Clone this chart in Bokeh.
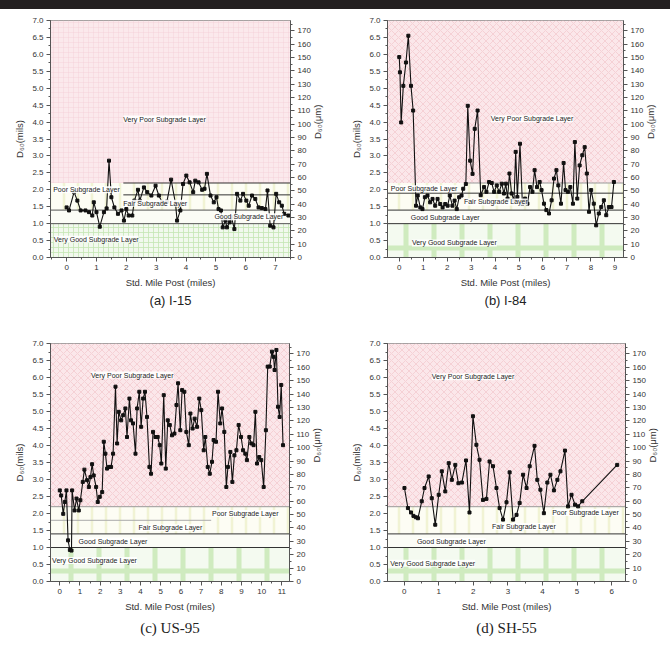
import math
from bokeh.plotting import figure
from bokeh.models import (Range1d, LinearAxis, SingleIntervalTicker, Label, Div,
                          Title, ColumnDataSource, PrintfTickFormatter, BoxAnnotation)
from bokeh.layouts import column, row
from bokeh.embed import file_html
from bokeh.resources import INLINE

MILS_TO_UM = 25.4
Y_MAX = 7.0

# ---------------- data ----------------
i15_mile = [0.0, 0.08, 0.25, 0.36, 0.47, 0.63, 0.75, 0.86, 0.91, 1.0, 1.11, 1.25, 1.34, 1.42, 1.5,
            1.6, 1.72, 1.84, 1.92, 2.0, 2.08, 2.2, 2.27, 2.39, 2.45, 2.59, 2.7, 2.84, 2.98, 3.09,
            3.2, 3.36, 3.5, 3.65, 3.7, 3.81, 3.9, 4.01, 4.12, 4.24, 4.31, 4.42, 4.54, 4.62, 4.7,
            4.82, 4.93, 5.02, 5.09, 5.17, 5.23, 5.32, 5.37, 5.46, 5.52, 5.62, 5.71, 5.82, 5.91,
            6.02, 6.1, 6.21, 6.32, 6.43, 6.54, 6.66, 6.73, 6.82, 6.93, 7.02, 7.12, 7.21, 7.29, 7.43]
i15_d60 = [1.48, 1.39, 1.93, 1.68, 1.39, 1.39, 1.34, 1.24, 1.63, 1.34, 0.91, 1.34, 1.45, 2.86, 1.78,
           1.48, 1.29, 1.39, 1.09, 1.43, 1.24, 1.24, 1.68, 2.0, 1.68, 2.07, 1.93, 1.83, 2.12, 1.83,
           1.63, 1.65, 2.3, 1.58, 1.09, 1.39, 2.17, 2.42, 2.22, 1.93, 2.27, 2.22, 2.0, 2.03, 2.47,
           1.83, 1.63, 1.78, 1.43, 1.39, 0.89, 1.09, 0.89, 1.04, 1.19, 0.84, 1.88, 1.68, 1.88,
           1.68, 1.53, 1.83, 1.73, 1.48, 1.46, 1.43, 1.98, 0.94, 0.89, 1.88, 1.63, 1.53, 1.29, 1.24]

i84_mile = [0.0, 0.03, 0.08, 0.17, 0.28, 0.38, 0.49, 0.58, 0.7, 0.77, 0.88, 0.97, 1.07, 1.18, 1.29,
            1.39, 1.5, 1.6, 1.71, 1.81, 1.92, 2.02, 2.11, 2.22, 2.31, 2.4, 2.5, 2.6, 2.67, 2.78,
            2.86, 2.96, 3.06, 3.15, 3.27, 3.4, 3.54, 3.64, 3.75, 3.86, 3.96, 4.07, 4.17, 4.28, 4.37,
            4.45, 4.52, 4.6, 4.69, 4.79, 4.86, 4.93, 5.04, 5.14, 5.25, 5.35, 5.46, 5.56, 5.65, 5.75,
            5.86, 5.94, 6.04, 6.14, 6.25, 6.36, 6.46, 6.56, 6.64, 6.75, 6.86, 6.94, 7.04, 7.14, 7.25,
            7.33, 7.43, 7.53, 7.64, 7.74, 7.83, 7.92, 8.01, 8.12, 8.22, 8.33, 8.43, 8.54, 8.64, 8.75,
            8.86, 8.96]
i84_d60 = [5.92, 5.47, 3.99, 5.07, 5.76, 6.55, 5.07, 4.34, 1.53, 1.83, 1.48, 1.43, 1.78, 1.83, 1.63,
           1.73, 1.53, 1.73, 1.58, 1.48, 1.58, 1.53, 1.83, 1.53, 1.68, 1.43, 1.78, 1.83, 2.03, 2.17,
           4.48, 2.86, 2.47, 3.8, 4.34, 1.84, 2.08, 1.94, 2.23, 2.2, 1.94, 2.13, 1.94, 2.18, 1.89,
           2.18, 1.74, 2.48, 1.89, 1.69, 3.12, 1.79, 3.36, 1.59, 1.74, 1.59, 2.08, 1.94, 2.58, 2.08,
           2.23, 1.99, 1.59, 1.4, 1.3, 1.69, 2.33, 2.58, 2.13, 1.59, 2.79, 1.99, 1.94, 2.08, 1.59,
           3.41, 1.74, 2.72, 3.02, 3.26, 2.48, 1.35, 1.99, 1.59, 0.95, 1.3, 1.49, 1.69, 1.25, 1.49,
           1.49, 2.23]

us95_mile = [0, 0.07, 0.17, 0.25, 0.33, 0.41, 0.5, 0.58, 0.61, 0.73, 0.83, 0.94, 1.02, 1.14, 1.22,
             1.35, 1.44, 1.52, 1.6, 1.68, 1.8, 1.88, 1.98, 2.1, 2.18, 2.26, 2.34, 2.43, 2.54, 2.64,
             2.76, 2.84, 2.92, 3.04, 3.14, 3.25, 3.33, 3.45, 3.53, 3.63, 3.75, 3.83, 3.94, 4.03, 4.13,
             4.22, 4.32, 4.44, 4.52, 4.62, 4.74, 4.85, 4.95, 5.03, 5.15, 5.25, 5.35, 5.45, 5.56, 5.68,
             5.78, 5.86, 5.97, 6.06, 6.17, 6.27, 6.39, 6.47, 6.58, 6.68, 6.8, 6.91, 7.01, 7.13, 7.21,
             7.33, 7.43, 7.54, 7.62, 7.74, 7.84, 7.95, 8.04, 8.15, 8.25, 8.33, 8.45, 8.55, 8.65, 8.75,
             8.86, 8.98, 9.08, 9.19, 9.27, 9.39, 9.49, 9.6, 9.69, 9.77, 9.88, 9.98, 10.1, 10.21, 10.3,
             10.4, 10.51, 10.59, 10.64, 10.73, 10.81, 10.89, 10.97, 11.06]
us95_d60 = [2.68, 2.53, 1.99, 2.34, 2.68, 1.21, 0.93, 0.91, 2.68, 2.09, 2.44, 2.09, 2.39, 2.93, 3.29,
            2.98, 2.78, 3.07, 3.45, 3.12, 2.78, 2.34, 2.49, 2.63, 4.11, 3.76, 3.32, 3.37, 3.37, 3.76,
            5.73, 4.06, 4.99, 4.74, 4.89, 5.09, 4.25, 5.38, 4.74, 4.65, 3.76, 5.09, 5.58, 4.55, 5.38,
            5.58, 4.84, 3.37, 3.17, 4.4, 4.25, 4.25, 4.01, 3.47, 5.48, 3.32, 4.74, 4.6, 4.3, 4.35,
            5.19, 5.83, 4.45, 5.63, 5.58, 4.4, 4.01, 4.94, 4.5, 4.79, 4.55, 5.38, 5.04, 3.86, 4.25,
            3.37, 3.17, 3.52, 4.16, 4.11, 5.58, 4.65, 5.09, 4.4, 2.78, 3.37, 3.81, 2.93, 3.71, 3.86,
            4.6, 4.25, 3.86, 3.76, 3.57, 4.25, 4.06, 4.01, 4.99, 3.47, 3.66, 3.57, 2.78, 4.45, 6.32,
            6.32, 6.76, 6.61, 6.22, 6.81, 5.14, 4.84, 5.78, 4.01]

sh55_mile = [0.01, 0.11, 0.2, 0.27, 0.34, 0.4, 0.51, 0.59, 0.71, 0.8, 0.9, 1.0, 1.09, 1.19, 1.29,
             1.38, 1.48, 1.57, 1.67, 1.79, 1.89, 1.99, 2.09, 2.18, 2.28, 2.38, 2.47, 2.57, 2.67, 2.76,
             2.86, 2.96, 3.05, 3.15, 3.25, 3.34, 3.44, 3.54, 3.63, 3.77, 3.85, 3.94, 4.04, 4.14, 4.23,
             4.33, 4.43, 4.52, 4.65, 4.74, 4.84, 4.94, 5.03, 5.15, 6.16]
sh55_d60 = [2.75, 2.16, 2.03, 1.93, 1.89, 1.86, 2.36, 2.75, 3.09, 2.45, 1.67, 2.55, 3.24, 2.65, 3.48,
            2.99, 3.43, 2.89, 2.91, 3.56, 2.03, 4.86, 4.02, 3.58, 2.4, 2.43, 3.53, 3.39, 2.75, 2.16,
            1.82, 2.33, 3.21, 1.82, 1.96, 2.31, 3.14, 2.75, 3.39, 3.99, 2.99, 2.7, 2.01, 2.91, 3.14,
            2.68, 2.99, 3.24, 3.85, 2.21, 2.55, 2.26, 2.21, 2.36, 3.43]

# subgrade layer thresholds (mils)
very_good_top = 1.0
good_top = 1.4
poor_top = 2.2
layer_names = ["Very Good Subgrade Layer", "Good Subgrade Layer", "Fair Subgrade Layer",
               "Poor Subgrade Layer", "Very Poor Subgrade Layer"]

captions = ["(a) I-15", "(b) I-84", "(c) US-95", "(d) SH-55"]

FONT = "Liberation Sans"


def make_panel(miles, d60, caption, cfg):
    p = figure(width=335, height=cfg["h"], output_backend="svg", toolbar_location=None,
               x_range=Range1d(*cfg["xr"]), y_range=Range1d(0, Y_MAX),
               min_border_left=cfg["bl"], min_border_right=cfg["br"],
               min_border_top=11, min_border_bottom=cfg["bb"])
    p.xgrid.visible = False
    p.ygrid.visible = False
    p.outline_line_color = "#8a8a8a"
    p.background_fill_color = "white"
    x0, x1 = cfg["xr"]

    # layer backgrounds
    if cfg["grid_style"]:
        p.quad(left=x0, right=x1, bottom=poor_top, top=Y_MAX, fill_color="#fbe9ec",
               line_color=None, hatch_pattern="cross", hatch_color="#f3cfd5",
               hatch_scale=5, hatch_weight=0.7, hatch_alpha=0.6)
    else:
        p.quad(left=x0, right=x1, bottom=poor_top, top=Y_MAX, fill_color="#fbe7ea",
               line_color=None, hatch_pattern="diagonal_cross", hatch_color="#f1c3ca",
               hatch_scale=7, hatch_weight=0.8, hatch_alpha=0.8)
    p.quad(left=x0, right=x1, bottom=good_top, top=poor_top, fill_color="#fdfdf4",
           line_color=None, hatch_pattern="vertical_line", hatch_color="#eef0cc",
           hatch_scale=14, hatch_weight=2.5, hatch_alpha=0.8)
    p.quad(left=x0, right=x1, bottom=very_good_top, top=good_top, fill_color="#fbfcf6",
           line_color=None)
    if cfg["grid_style"]:
        p.quad(left=x0, right=x1, bottom=0, top=very_good_top, fill_color="#f2f9ee",
               line_color=None, hatch_pattern="cross", hatch_color="#c6e6b4",
               hatch_scale=5, hatch_weight=1, hatch_alpha=0.8)
    else:
        p.quad(left=x0, right=x1, bottom=0, top=very_good_top, fill_color="#f4faf0",
               line_color=None, hatch_pattern="cross", hatch_color="#bfe4aa",
               hatch_scale=28, hatch_weight=5, hatch_alpha=0.7)

    # boundary lines
    for (yv, xa, xb, col) in cfg["lines"]:
        p.line(x=[x0 if xa is None else xa, x1 if xb is None else xb], y=[yv, yv],
               line_color=col, line_width=1)

    # layer labels
    for name, (lx, ly) in zip(layer_names, cfg["labels"]):
        p.add_layout(Label(x=lx, y=ly, text=name, text_font=FONT, text_font_size="7px",
                           text_color="#222", text_baseline="middle", text_align="left",
                           background_fill_color="white", background_fill_alpha=0.9))

    src = ColumnDataSource(dict(x=miles, y=d60))
    p.line("x", "y", source=src, line_color="#111", line_width=1.1)
    p.scatter("x", "y", source=src, marker="square", size=3, color="#111")

    # axes
    p.xaxis.ticker = SingleIntervalTicker(interval=1, num_minor_ticks=2)
    p.yaxis.ticker = SingleIntervalTicker(interval=0.5, num_minor_ticks=2)
    p.yaxis.formatter = PrintfTickFormatter(format="%.1f")
    p.xaxis.axis_label = "Std. Mile Post (miles)"
    p.yaxis.axis_label = "D₆₀(mils)"

    p.extra_y_ranges = {"um": Range1d(0, Y_MAX * MILS_TO_UM)}
    ra = LinearAxis(y_range_name="um", ticker=SingleIntervalTicker(interval=10, num_minor_ticks=2),
                    axis_label="D₆₀(μm)", axis_label_orientation=math.pi / 2)
    p.add_layout(ra, "right")

    for ax in (p.xaxis[0], p.yaxis[0], ra):
        ax.axis_line_color = "#555"
        ax.major_tick_line_color = "#555"
        ax.minor_tick_line_color = "#555"
        ax.major_tick_out = 4
        ax.major_tick_in = 0
        ax.minor_tick_out = 2
        ax.minor_tick_in = 0
        ax.major_label_text_font = FONT
        ax.major_label_text_font_size = "8px"
        ax.major_label_text_color = "#333"
        ax.major_label_standoff = 3
        ax.axis_label_text_font = FONT
        ax.axis_label_text_font_size = "9.5px"
        ax.axis_label_text_font_style = "normal"
        ax.axis_label_text_color = "#333"
        ax.axis_label_standoff = cfg["lab_standoff"]

    t = Title(text=caption, align="center", text_font=cfg["cap_font"],
              text_font_size=cfg["cap_size"], text_font_style="normal", text_color="#222",
              standoff=cfg["cap_standoff"])
    p.add_layout(t, "below")
    return p


cfg_a = dict(h=323, xr=(-0.54, 7.5), bl=50, br=45, bb=75, grid_style=True, lab_standoff=4,
             lines=[(poor_top, 1.9, None, "#333"), (1.85, 1.9, None, "#333"),
                    (good_top, None, None, "#555"), (very_good_top, None, None, "#555")],
             labels=[(-0.43, 0.54), (4.95, 1.2), (1.9, 1.6), (-0.45, 2.0), (1.9, 4.09)],
             cap_font=FONT, cap_size="13px", cap_standoff=0)
cfg_b = dict(h=323, xr=(-0.49, 9.36), bl=52, br=47, bb=75, grid_style=False, lab_standoff=4,
             lines=[(poor_top, 2.8, None, "#999"), (1.9, None, None, "#333"),
                    (good_top, None, None, "#333"), (very_good_top, None, None, "#333")],
             labels=[(0.53, 0.43), (0.48, 1.18), (2.7, 1.64), (-0.35, 2.03), (3.82, 4.1)],
             cap_font=FONT, cap_size="13px", cap_standoff=0)
cfg_c = dict(h=323, xr=(-0.46, 11.38), bl=50, br=46, bb=74, grid_style=False, lab_standoff=4,
             lines=[(poor_top, None, None, "#999"), (1.8, None, 7.5, "#aaa"),
                    (good_top, None, None, "#333"), (very_good_top, None, None, "#333")],
             labels=[(-0.38, 0.62), (0.93, 1.19), (3.9, 1.58), (7.54, 2.0), (1.55, 6.07)],
             cap_font="Liberation Serif", cap_size="15px", cap_standoff=6)
cfg_d = dict(h=323, xr=(-0.48, 6.4), bl=52, br=45, bb=74, grid_style=False, lab_standoff=4,
             lines=[(poor_top, None, None, "#999"),
                    (good_top, None, None, "#333"), (very_good_top, None, None, "#333")],
             labels=[(-0.4, 0.54), (0.37, 1.18), (2.54, 1.62), (4.28, 2.03), (0.8, 6.02)],
             cap_font="Liberation Serif", cap_size="15px", cap_standoff=6)

pa = make_panel(i15_mile, i15_d60, captions[0], cfg_a)
pb = make_panel(i84_mile, i84_d60, captions[1], cfg_b)
pc = make_panel(us95_mile, us95_d60, captions[2], cfg_c)
pd = make_panel(sh55_mile, sh55_d60, captions[3], cfg_d)

# dark photo edge at the lower left of the page
pc.add_layout(BoxAnnotation(left=0, right=10, top=260, bottom=323,
                            left_units="screen", right_units="screen",
                            top_units="screen", bottom_units="screen",
                            fill_color="#231f20", fill_alpha=1.0, line_color=None))

bar = Div(text="", width=670, height=9, margin=(0, 0, 0, 0),
          styles={"background-color": "#231f20"})
layout = column(bar, row(pa, pb, spacing=0), row(pc, pd, spacing=0), spacing=0)

open("out.html", "w").write(file_html(layout, INLINE))
